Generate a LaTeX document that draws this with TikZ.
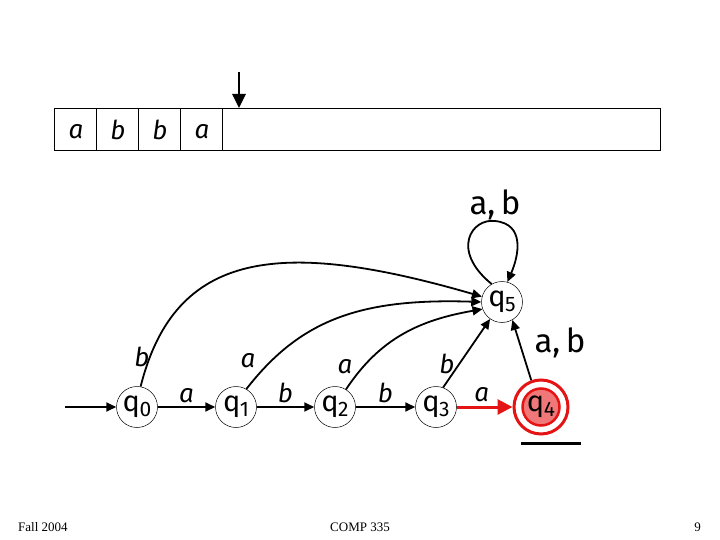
\documentclass[tikz,border=0pt]{standalone}
\usepackage{fontspec}
\setmainfont{Liberation Serif}
\newfontfamily\lblfont{Fira Sans}
\usetikzlibrary{arrows.meta}
\definecolor{accred}{RGB}{228,20,20}
\definecolor{accpink}{RGB}{240,120,120}
\newcommand{\qlab}[1]{{\lblfont\fontsize{29}{29}\selectfont q\kern-0.5pt\raisebox{-5pt}{\fontsize{21}{21}\selectfont #1}}}
\newcommand{\sym}[1]{{\lblfont\itshape\fontsize{26}{26}\selectfont #1}}
\newcommand{\bigsym}[1]{{\lblfont\fontsize{33}{33}\selectfont #1}}
\begin{document}
\begin{tikzpicture}[x=1pt,y=-1pt,
  state/.style={circle,draw,line width=0.5pt,minimum size=41pt,inner sep=0pt,fill=white},
  edge/.style={line width=1.8pt,-{Triangle[length=10pt,width=9pt]}},
  lbl/.style={inner sep=1pt},
  foot/.style={font=\fontsize{13}{13}\selectfont,inner sep=0pt}]
\useasboundingbox (0,0) rectangle (720,540);
% tape
\draw[line width=0.6pt] (54,108) rectangle (660,150);
\foreach \x in {96,138,180,222} \draw[line width=0.6pt] (\x,108) -- (\x,150);
\node[lbl] (t1) at (76,132) {\sym{a}};
\node[lbl] (t2) at (118,130) {\sym{b}};
\node[lbl] (t3) at (160,130) {\sym{b}};
\node[lbl] (t4) at (202,132) {\sym{a}};
\coordinate (headtop) at (239,72);
\coordinate (headtip) at (239,108);
\draw[line width=2.8pt,-{Triangle[length=14pt,width=13pt]}] (headtop) -- (headtip);
% states
\node[state] (q0) at (137,407) {\qlab{0}};
\node[state] (q1) at (236,407) {\qlab{1}};
\node[state] (q2) at (335,407) {\qlab{2}};
\node[state] (q3) at (436,407) {\qlab{3}};
\node[state] (q5) at (502,302) {\qlab{5}};
\node[circle,draw=accred,line width=3pt,minimum size=54pt,inner sep=0pt] (q4o) at (541,407) {};
\node[circle,draw=accred,fill=accpink,line width=2.5pt,minimum size=37pt,inner sep=0pt] (q4) at (541,407) {\qlab{4}};
% initial
\coordinate (init) at (65,407);
\draw[edge] (init) -- (q0);
% chain
\draw[edge] (q0) -- node[lbl,above=2pt] {\sym{a}} (q1);
\draw[edge] (q1) -- node[lbl,above=2pt] {\sym{b}} (q2);
\draw[edge] (q2) -- node[lbl,above=2pt] {\sym{b}} (q3);
\draw[line width=3pt,draw=accred,-{Triangle[length=15pt,width=15pt,fill=accred]}] (q3) -- node[lbl,above=3pt,pos=0.45] {\sym{a}} (q4o);
% to q5
\draw[edge] (q0.80) .. controls (175,250) and (280,238) .. (q5.165);
\node[lbl] (lb0) at (142,357) {\sym{b}};
\draw[edge] (q1.60) .. controls (300,320) and (360,298) .. (q5.180);
\node[lbl] (la1) at (248,361) {\sym{a}};
\draw[edge] (q2.58) .. controls (380,338) and (420,320) .. (q5.200);
\node[lbl] (la2) at (345,367) {\sym{a}};
\draw[edge] (q3.70) -- (q5.235);
\node[lbl] (lb3) at (447,364) {\sym{b}};
\draw[edge] (q4o.110) -- (q5.300);
\node[lbl] (lab45) at (560,343) {\bigsym{a,\,b}};
% self loop
\draw[edge] (q5.120) .. controls (450,250) and (472,218) .. (495,221) .. controls (525,224) and (519,255) .. (q5.75);
\node[lbl] (labloop) at (495,205) {\bigsym{a,\,b}};
% underline
\coordinate (ul1) at (521,443);
\coordinate (ul2) at (581,443);
\draw[line width=3pt] (ul1) -- (ul2);
% footer
\node[foot,anchor=west] (f1) at (18,527) {Fall 2004};
\node[foot] (f2) at (360,527) {COMP 335};
\node[foot,anchor=east] (f3) at (701,527) {9};
\end{tikzpicture}
\end{document}
